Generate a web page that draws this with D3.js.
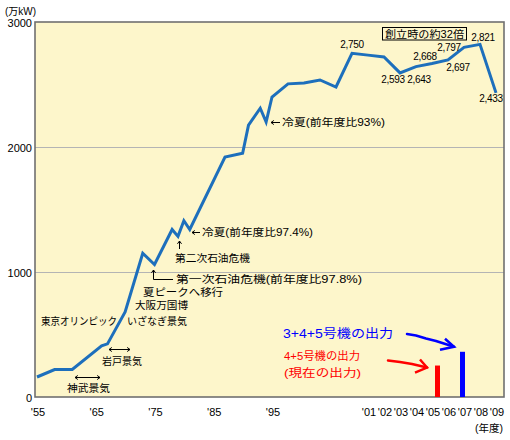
<!DOCTYPE html>
<html>
<head>
<meta charset="utf-8">
<script src="https://cdn.jsdelivr.net/npm/d3@7"></script>
<style>
  body { margin: 0; background: #fff; }
  svg { display: block; }
  text { font-family: "Liberation Sans", Arial, sans-serif; fill: #000; }
  .jp { font-family: "Liberation Sans", "Noto Sans CJK JP", sans-serif; }
</style>
</head>
<body>
<div id="chart"></div>
<script>
// Peak demand by fiscal year (万kW)
const years = [1955, 1958, 1961, 1966, 1967, 1970, 1973, 1975, 1978, 1979, 1980, 1981,
               1987, 1990, 1991, 1993, 1994, 1995, 1996, 1997, 1998, 1999, 2000, 2001,
               2002, 2003, 2004, 2005, 2006, 2007, 2008, 2009];
const peaks = [160, 220, 220, 410, 425, 680, 1150, 1060, 1340, 1285, 1410, 1340,
               1920, 1950, 2175, 2310, 2200, 2400, 2505, 2512, 2536, 2480, 2750, 2735,
               2720, 2593, 2643, 2668, 2697, 2797, 2821, 2433];

// years that get a value label
const labelYears = [2000, 2003, 2004, 2005, 2006, 2007, 2008, 2009];

// unit output bars (万kW)
const barNames  = ["4+5号機", "3+4+5号機"];
const barYears  = [2005, 2007];
const barValues = [251.7, 361.7];

const xTickYears  = [1955, 1965, 1975, 1985, 1995, 2001, 2002, 2003, 2004, 2005, 2006, 2007, 2008, 2009];
const xTickLabels = ["'55", "'65", "'75", "'85", "'95", "'01", "'02", "'03", "'04", "'05", "'06", "'07", "'08", "'09"];
const yTicks = [0, 1000, 2000, 3000];

const W = 510, H = 440;
const plot = { left: 35, right: 504, top: 22, bottom: 397 };

const svg = d3.select("#chart").append("svg")
  .attr("width", W).attr("height", H);

// x axis is stretched after 1995
const x = d3.scaleLinear()
  .domain([1955, 1995, 2009])
  .range([37, 272, 496]);
const y = d3.scaleLinear()
  .domain([0, 3000])
  .range([plot.bottom, plot.top]);

// background
svg.append("rect")
  .attr("x", plot.left).attr("y", plot.top)
  .attr("width", plot.right - plot.left).attr("height", plot.bottom - plot.top)
  .attr("fill", "#fdf6cb");

// grid lines
svg.selectAll(".grid")
  .data([1000, 2000])
  .enter().append("line")
    .attr("x1", plot.left).attr("x2", plot.right)
    .attr("y1", d => y(d) + 0.5).attr("y2", d => y(d) + 0.5)
    .attr("stroke", "#b4b4b4").attr("stroke-width", 1);

// frame
svg.append("rect")
  .attr("x", plot.left).attr("y", plot.top)
  .attr("width", plot.right - plot.left).attr("height", plot.bottom - plot.top)
  .attr("fill", "none").attr("stroke", "#707070").attr("stroke-width", 1.6);

// y labels
svg.selectAll(".ylab")
  .data(yTicks)
  .enter().append("text")
    .attr("x", 32).attr("y", d => y(d) + 1)
    .attr("text-anchor", "end").attr("dominant-baseline", "central")
    .style("font-size", "11px")
    .text(d => d);

// x labels
svg.selectAll(".xlab")
  .data(xTickYears)
  .enter().append("text")
    .attr("x", d => x(d) + 1).attr("y", 412)
    .attr("text-anchor", "middle").attr("dominant-baseline", "central")
    .style("font-size", "11px")
    .text((d, i) => xTickLabels[i]);

function jp(xp, yp, str, len, size, color, anchor) {
  return svg.append("text").attr("class", "jp")
    .attr("x", xp).attr("y", yp)
    .attr("dominant-baseline", "central")
    .attr("text-anchor", anchor || "start")
    .attr("textLength", len).attr("lengthAdjust", "spacingAndGlyphs")
    .style("font-size", (size || 10.5) + "px")
    .style("fill", color || "#000")
    .text(str);
}

jp(5, 10.5, "(万kW)", 31, 10.5);
jp(503, 428, "(年度)", 28, 10.5, "#000", "end");

// bars
svg.selectAll(".bar")
  .data(barValues)
  .enter().append("rect")
    .attr("x", (d, i) => x(barYears[i]) + (i === 0 ? 3 : -4))
    .attr("y", d => y(d))
    .attr("width", 5)
    .attr("height", d => plot.bottom - y(d))
    .attr("fill", (d, i) => i === 0 ? "#ff0000" : "#0000ff");

// the peak line
const line = d3.line()
  .x(d => x(d[0]))
  .y(d => y(d[1]));

svg.append("path")
  .datum(years.map((yr, i) => [yr, peaks[i]]))
  .attr("d", line)
  .attr("fill", "none")
  .attr("stroke", "#1d6fbc")
  .attr("stroke-width", 3)
  .attr("stroke-linejoin", "miter");

// value labels
const labelOffset = {
  2000: [0, -9], 2003: [-7, 7], 2004: [3, 13], 2005: [-7, -7],
  2006: [10, 8], 2007: [-15, 0], 2008: [3, -7], 2009: [-5, 6]
};
svg.selectAll(".vlab")
  .data(labelYears)
  .enter().append("text")
    .attr("x", d => x(d) + labelOffset[d][0])
    .attr("y", d => y(peaks[years.indexOf(d)]) + labelOffset[d][1])
    .attr("text-anchor", "middle").attr("dominant-baseline", "central")
    .style("font-size", "10px")
    .style("letter-spacing", "-0.3px")
    .text(d => d3.format(",")(peaks[years.indexOf(d)]));

// small arrows
function arrowHead(tx, ty, ang) {
  const a1 = ang + Math.PI * 0.8, a2 = ang - Math.PI * 0.8, r = 3.5;
  svg.append("path")
    .attr("d", "M" + (tx + r * Math.cos(a1)) + "," + (ty + r * Math.sin(a1)) +
               "L" + tx + "," + ty +
               "L" + (tx + r * Math.cos(a2)) + "," + (ty + r * Math.sin(a2)))
    .attr("fill", "none").attr("stroke", "#000").attr("stroke-width", 1);
}
function arrow(x1, y1, x2, y2, both) {
  svg.append("line")
    .attr("x1", x1).attr("y1", y1).attr("x2", x2).attr("y2", y2)
    .attr("stroke", "#000").attr("stroke-width", 1);
  arrowHead(x2, y2, Math.atan2(y2 - y1, x2 - x1));
  if (both) arrowHead(x1, y1, Math.atan2(y1 - y2, x1 - x2));
}

// booms
arrow(75, 377.5, 100, 377.5, true);
jp(67, 388, "神武景気", 43);
arrow(109, 349.5, 130, 349.5, true);
jp(102, 361, "岩戸景気", 40);
jp(41, 321, "東京オリンピック", 76);
jp(127, 321, "いざなぎ景気", 60);
jp(135, 304.5, "大阪万国博", 53);
jp(143, 292, "夏ピークへ移行", 80);

// first oil crisis
const oil1x = Math.round(x(1975)) - 1.5;
svg.append("path")
  .attr("d", "M" + oil1x + ",279.5H173")
  .attr("fill", "none").attr("stroke", "#000");
arrow(oil1x, 279.5, oil1x, 270);
jp(176, 279, "第一次石油危機(前年度比97.8%)", 186);

// second oil crisis
const oil2x = Math.round(x(1979)) + 1.5;
arrow(oil2x, 249, oil2x, 241);
jp(175, 258, "第二次石油危機", 75);

// cold summers
arrow(200, 232.5, 192, 232.5);
jp(202, 232, "冷夏(前年度比97.4%)", 111);
arrow(280, 122.5, 271, 122.5);
jp(282, 122, "冷夏(前年度比93%)", 103);

// 32x note
svg.append("rect")
  .attr("x", 382.5).attr("y", 27.5).attr("width", 84).attr("height", 12.5)
  .attr("fill", "none").attr("stroke", "#000").attr("stroke-width", 1);
jp(385, 34, "創立時の約32倍", 79);

// unit output notes
jp(283, 334, "3+4+5号機の出力", 110, 12, "#0000ff");
jp(284, 356, "4+5号機の出力", 76, 11, "#ff0000");
jp(284, 372.5, "(現在の出力)", 77, 11, "#ff0000");

function bigArrow(pts, head, color) {
  svg.append("path")
    .attr("d", d3.line()(pts))
    .attr("fill", "none").attr("stroke", color).attr("stroke-width", 2.5)
    .attr("stroke-linejoin", "round").attr("stroke-linecap", "round");
  svg.append("path")
    .attr("d", d3.line()(head))
    .attr("fill", "none").attr("stroke", color).attr("stroke-width", 2.5)
    .attr("stroke-linejoin", "miter");
}
const bx = x(barYears[1]) - 4, by = y(barValues[1]);
bigArrow([[407, 334], [416, 335.5], [426, 338.5], [436, 341], [bx - 6, by - 5]],
         [[bx - 15, by - 13], [bx - 6, by - 5], [bx - 20, by - 2]], "#0000ff");
const rx = x(barYears[0]) + 3, ry = y(barValues[0]);
bigArrow([[388, 360.5], [400, 362], [412, 364], [rx - 8, ry + 2]],
         [[rx - 15, ry - 6], [rx - 8, ry + 2], [rx - 20, ry + 7]], "#ff0000");
</script>
</body>
</html>
